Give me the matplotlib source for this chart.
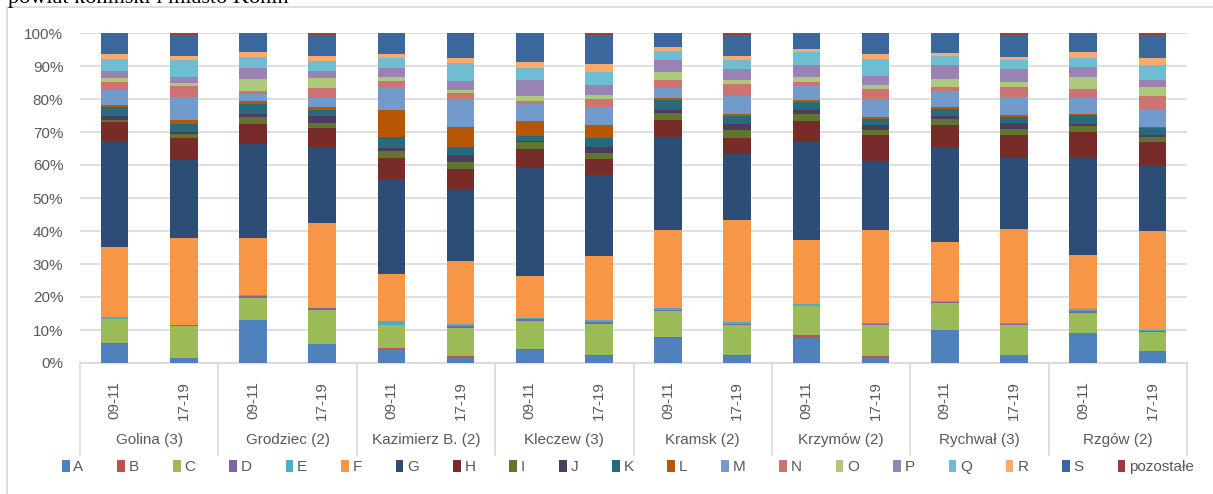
import matplotlib
matplotlib.use("Agg")
import matplotlib.pyplot as plt
import matplotlib.transforms as mtransforms
from matplotlib.patches import Rectangle, Patch
from matplotlib.lines import Line2D
import numpy as np

plt.rcParams['font.family'] = ['Liberation Sans', 'DejaVu Sans']

# --- data: sector shares (%) per municipality and period ---
groups = ["Golina (3)", "Grodziec (2)", "Kazimierz B. (2)", "Kleczew (3)",
          "Kramsk (2)", "Krzymów (2)", "Rychwał (3)", "Rzgów (2)"]
periods = ["09-11", "17-19"]

A = [5.7, 1.4, 13.0, 5.8, 4.2, 1.6, 4.0, 2.2, 7.6, 2.2, 7.7, 1.4, 10.0, 2.3, 9.1, 3.6]
B = [0.3, 0.1, 0.0, 0.1, 0.3, 0.4, 0.2, 0.2, 0.4, 0.3, 0.7, 0.6, 0.0, 0.0, 0.1, 0.1]
C = [7.3, 9.7, 6.8, 10.2, 7.0, 8.7, 8.5, 9.4, 7.7, 9.1, 8.8, 9.5, 8.3, 9.2, 6.1, 5.8]
D = [0.1, 0.2, 0.5, 0.5, 0.1, 0.6, 0.5, 0.5, 0.3, 0.3, 0.2, 0.2, 0.3, 0.4, 0.4, 0.1]
E = [0.4, 0.2, 0.2, 0.2, 1.0, 0.6, 0.5, 0.7, 0.7, 0.6, 0.4, 0.4, 0.1, 0.1, 0.6, 0.4]
F = [21.4, 26.4, 17.5, 25.5, 14.3, 19.0, 12.6, 19.4, 23.7, 30.7, 19.6, 28.1, 17.9, 28.6, 16.5, 29.9]
G = [32.1, 23.6, 28.5, 23.3, 28.9, 21.7, 32.7, 24.6, 28.2, 20.0, 29.6, 20.9, 29.0, 21.6, 29.7, 20.0]
H = [5.8, 6.5, 6.0, 5.6, 6.3, 6.2, 5.8, 4.8, 5.0, 4.9, 6.3, 8.0, 6.6, 7.0, 7.4, 7.1]
I = [0.6, 1.3, 1.9, 1.6, 2.0, 2.1, 2.1, 1.9, 2.2, 2.5, 2.2, 1.6, 1.7, 1.6, 1.9, 1.5]
J = [1.2, 0.7, 1.1, 2.2, 1.2, 2.0, 0.3, 1.7, 0.9, 1.9, 1.1, 1.5, 0.9, 2.0, 0.7, 0.7]
K = [2.6, 2.4, 3.1, 1.7, 3.1, 2.6, 1.7, 2.9, 3.1, 2.3, 2.5, 1.8, 2.1, 1.7, 2.7, 1.9]
L = [0.8, 1.2, 0.9, 0.8, 8.3, 6.0, 4.3, 3.8, 0.4, 0.6, 0.6, 0.6, 0.7, 0.8, 0.2, 0.5]
M = [4.5, 6.8, 2.1, 2.9, 6.9, 8.5, 5.2, 5.4, 3.0, 5.6, 4.3, 5.5, 4.9, 5.3, 5.0, 5.2]
N = [2.3, 3.5, 0.8, 2.9, 1.9, 1.8, 0.9, 2.5, 2.5, 3.5, 1.1, 3.0, 1.1, 2.9, 2.6, 4.0]
O = [1.4, 0.9, 3.6, 3.0, 1.1, 0.8, 1.6, 1.2, 2.5, 1.4, 1.6, 1.1, 2.5, 1.8, 3.7, 2.7]
P = [1.9, 1.9, 3.4, 2.3, 2.9, 2.9, 4.9, 3.1, 3.7, 3.1, 3.6, 2.9, 4.2, 3.7, 2.9, 2.2]
Q = [3.8, 5.0, 3.4, 2.9, 2.9, 5.5, 3.6, 4.0, 2.7, 2.8, 3.9, 5.0, 2.6, 2.8, 2.8, 4.6]
R = [1.4, 1.1, 1.5, 1.6, 1.3, 1.5, 1.9, 2.3, 1.1, 1.2, 1.0, 1.5, 1.1, 1.0, 1.8, 2.0]
S = [6.4, 6.5, 5.7, 6.2, 6.3, 7.2, 8.7, 8.7, 4.3, 6.5, 4.8, 6.2, 6.0, 6.7, 5.8, 7.1]
pozostale = [0.0, 0.6, 0.0, 0.7, 0.0, 0.3, 0.0, 0.7, 0.0, 0.5, 0.0, 0.2, 0.0, 0.5, 0.0, 0.6]

series_names = ["A", "B", "C", "D", "E", "F", "G", "H", "I", "J", "K", "L",
                "M", "N", "O", "P", "Q", "R", "S", "pozostałe"]
series_values = [A, B, C, D, E, F, G, H, I, J, K, L, M, N, O, P, Q, R, S, pozostale]
series_colors = ["#4F81BD", "#C0504D", "#9BBB59", "#8064A2", "#4BACC6", "#F79646",
                 "#2C4D75", "#772C2A", "#5F7530", "#4D3B62", "#276A7C", "#B65708",
                 "#729ACA", "#CD7371", "#AFC97A", "#9983B5", "#6FBDD1", "#F9AB6B",
                 "#3A679C", "#9E3B38"]

# --- figure geometry ---
W, H = 1213, 494
fig = plt.figure(figsize=(W / 100, H / 100), dpi=100)
ax = fig.add_axes([80 / W, 1 - 363 / H, (1187 - 80) / W, (363 - 33) / H])

grey_txt = "#595959"
grid_col = "#D9D9D9"

vals = np.array(series_values, dtype=float)
shares = vals / vals.sum(axis=0) * 100.0
x = np.arange(vals.shape[1])

bottom = np.zeros(len(x))
for name, share, col in zip(series_names, shares, series_colors):
    ax.bar(x, share, bottom=bottom, width=0.4, color=col, linewidth=0, zorder=3)
    bottom += share

ax.set_xlim(-0.5, len(x) - 0.5)
ax.set_ylim(0, 100)
ax.set_yticks(np.arange(0, 101, 10))
ax.set_yticklabels([f"{v}%" for v in range(0, 101, 10)])
ax.yaxis.grid(True, color=grid_col, linewidth=1.2, zorder=0)
ax.set_axisbelow(True)
for side in ("left", "right", "top"):
    ax.spines[side].set_visible(False)
ax.spines["bottom"].set_color(grid_col)
ax.spines["bottom"].set_linewidth(1.2)
ax.tick_params(axis="y", length=0, pad=12, labelsize=11, labelcolor=grey_txt)

# inner category level: periods
ax.set_xticks(x)
ax.set_xticklabels(periods * len(groups), rotation=90)
ax.tick_params(axis="x", length=0, pad=13, labelsize=11, labelcolor=grey_txt)

# outer category level: municipalities and separators
trans = mtransforms.blended_transform_factory(ax.transData, ax.transAxes)
for gi, g in enumerate(groups):
    ax.text(2 * gi + 0.5, -0.232, g, transform=trans, ha="center", va="center",
            fontsize=11, color=grey_txt)
for b in np.arange(-0.5, len(x), 2):
    ax.add_line(Line2D([b, b], [0, -0.28], transform=trans, color=grid_col,
                       linewidth=1.2, clip_on=False))

# legend in one row
handles = [Patch(facecolor=c, edgecolor="none") for c in series_colors]
fig.legend(handles, series_names, loc="center", ncol=len(series_names),
           bbox_to_anchor=(628 / W, 1 - 467 / H), frameon=False,
           fontsize=11, labelcolor=grey_txt, handlelength=0.5, handleheight=0.9,
           handletextpad=0.25, columnspacing=2.22, borderpad=0)

# chart frame and heading
fig.patches.append(Rectangle((7 / W, -0.1), 1.2, 1.1 - 7 / H, transform=fig.transFigure,
                             fill=False, edgecolor=grid_col, linewidth=1.2))
fig.text(8 / W, 1 - 3 / H, "powiat koniński i miasto Konin", family="Liberation Serif",
         fontsize=16, va="baseline", ha="left", color="black")

fig.savefig("out.png", dpi=100)
